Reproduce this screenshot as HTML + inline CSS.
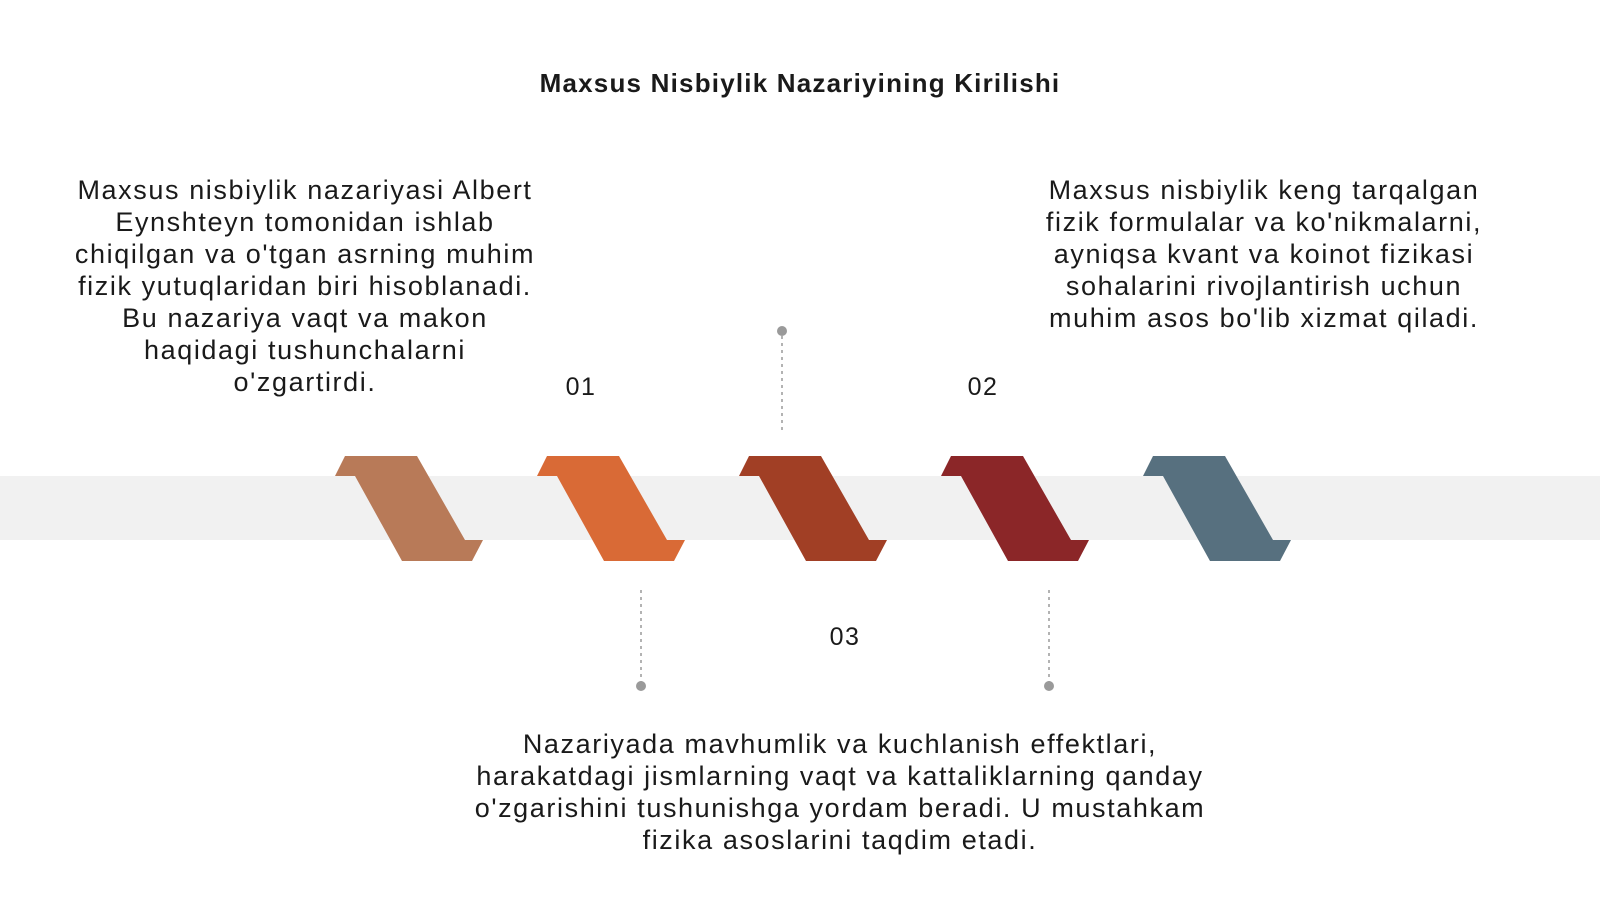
<!DOCTYPE html>
<html><head><meta charset="utf-8"><style>
html,body{margin:0;padding:0;background:#fff;}
svg{display:block;}
text{font-family:"Liberation Sans",sans-serif;fill:#1a1a1a;}
</style></head><body>
<svg width="1600" height="900" viewBox="0 0 1600 900" xmlns="http://www.w3.org/2000/svg">
<rect x="0" y="476" width="1600" height="64" fill="#f1f1f1"/>
<text x="800" y="92" font-size="26" font-weight="bold" text-anchor="middle" fill="#111" letter-spacing="1.2">Maxsus Nisbiylik Nazariyining Kirilishi</text>

<g font-size="27" text-anchor="middle" letter-spacing="1.6">
<text x="305" y="199">Maxsus nisbiylik nazariyasi Albert</text>
<text x="305" y="231">Eynshteyn tomonidan ishlab</text>
<text x="305" y="263">chiqilgan va o'tgan asrning muhim</text>
<text x="305" y="295">fizik yutuqlaridan biri hisoblanadi.</text>
<text x="305" y="327">Bu nazariya vaqt va makon</text>
<text x="305" y="359">haqidagi tushunchalarni</text>
<text x="305" y="391">o'zgartirdi.</text>

<text x="1264" y="199">Maxsus nisbiylik keng tarqalgan</text>
<text x="1264" y="231">fizik formulalar va ko'nikmalarni,</text>
<text x="1264" y="263">ayniqsa kvant va koinot fizikasi</text>
<text x="1264" y="295">sohalarini rivojlantirish uchun</text>
<text x="1264" y="327">muhim asos bo'lib xizmat qiladi.</text>

<text x="840" y="753">Nazariyada mavhumlik va kuchlanish effektlari,</text>
<text x="840" y="785">harakatdagi jismlarning vaqt va kattaliklarning qanday</text>
<text x="840" y="817">o'zgarishini tushunishga yordam beradi. U mustahkam</text>
<text x="840" y="849">fizika asoslarini taqdim etadi.</text>
</g>

<g font-size="25" text-anchor="middle" letter-spacing="1.5">
<text x="581" y="395">01</text>
<text x="983" y="395">02</text>
<text x="845" y="645">03</text>
</g>

<g stroke="#9a9a9a" stroke-width="1.5" stroke-dasharray="3,4">
<line x1="782" y1="336" x2="782" y2="430"/>
<line x1="641" y1="590" x2="641" y2="684"/>
<line x1="1049" y1="590" x2="1049" y2="684"/>
</g>
<g fill="#9a9a9a">
<circle cx="782" cy="331" r="5"/>
<circle cx="641" cy="686" r="5"/>
<circle cx="1049" cy="686" r="5"/>
</g>

<defs>
<polygon id="sh" points="345,456 417,456 465,540 483,540 472,561 402,561 355,476 335,476"/>
</defs>
<use href="#sh" fill="#b87a58"/>
<use href="#sh" fill="#d96a36" transform="translate(202,0)"/>
<use href="#sh" fill="#a13f25" transform="translate(404,0)"/>
<use href="#sh" fill="#8b2628" transform="translate(606,0)"/>
<use href="#sh" fill="#57707f" transform="translate(808,0)"/>
</svg>
</body></html>
